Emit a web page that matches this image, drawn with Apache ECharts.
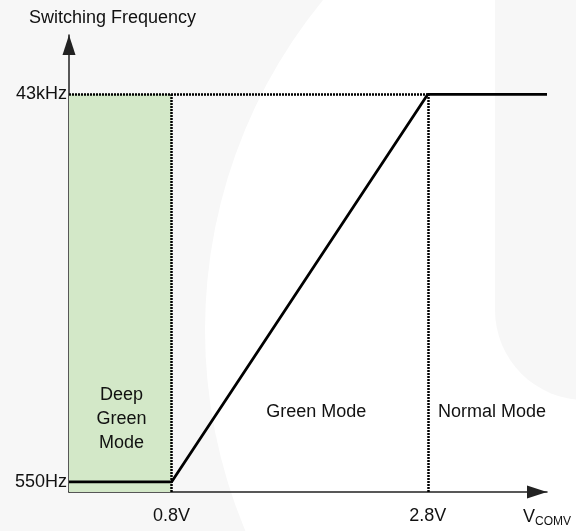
<!DOCTYPE html>
<html>
<head>
<meta charset="utf-8">
<script src="https://cdn.jsdelivr.net/npm/echarts@6/dist/echarts.min.js"></script>
<style>
html, body { margin: 0; padding: 0; background: #fff; }
#chart { width: 576px; height: 531px; }
</style>
</head>
<body>
<div id="chart"></div>
<script>
// 开关频率 vs 控制电压 VCOMV
var voltage = [0, 0.8, 2.8, 3.73];
var freqKHz = [0.55, 0.55, 43, 43];
var vTicks = [0.8, 2.8];
var vTickLabels = ['0.8V', '2.8V'];
var fTicks = [0.55, 43];
var fTickLabels = ['550Hz', '43kHz'];
var deepGreenEnd = 0.8;
var normalStart = 2.8;
var fMax = 43;
var yMin = -0.55;
var yMax = 49.5;
var modeNames = ['Deep\nGreen\nMode', 'Green Mode', 'Normal Mode'];
var modeX = [0.41, 1.93, 3.3];
var modeY = [7.4, 8.2, 8.2];

var FONT = '"Liberation Sans", Arial, sans-serif';
var INK = '#111';

function pickLabel(ticks, labels) {
    return function(v) {
        for (var i = 0; i < ticks.length; i++) {
            if (Math.abs(ticks[i] - v) < 1e-6) return labels[i];
        }
        return '';
    };
}

var chart = echarts.init(document.getElementById('chart'));

var axisLineStyle = { color: '#222', width: 1.5 };

var option = {
    backgroundColor: '#fff',
    animation: false,
    title: {
        text: 'Switching Frequency',
        left: 24,
        top: 4,
        textStyle: { fontFamily: FONT, fontSize: 18, fontWeight: 'normal', color: INK }
    },
    graphic: {
        elements: [
            // 背景水印
            { type: 'rect', z: -10, shape: { x: 0, y: 0, width: 576, height: 531 }, style: { fill: '#f7f7f7' }, silent: true },
            { type: 'circle', z: -9, shape: { cx: 725, cy: 330, r: 520 }, style: { fill: '#fff' }, silent: true },
            { type: 'rect', z: -8, shape: { x: 495, y: -100, width: 120, height: 500, r: [0, 0, 0, 90] }, style: { fill: '#f7f7f7' }, silent: true }
        ]
    },
    grid: { left: 69, right: 29, top: 35, bottom: 39 },
    xAxis: {
        type: 'value',
        min: 0,
        max: 3.73,
        name: '{v|V}{s|COMV}',
        nameLocation: 'end',
        nameGap: -24,
        nameTextStyle: {
            verticalAlign: 'top',
            padding: [14, 0, 0, 0],
            rich: {
                v: { fontFamily: FONT, fontSize: 18, color: INK },
                s: { fontFamily: FONT, fontSize: 12, color: INK, padding: [10, 0, 0, 0] }
            }
        },
        splitLine: { show: false },
        axisTick: { show: false },
        axisLine: {
            onZero: false,
            symbol: ['none', 'triangle'],
            symbolSize: [13, 20],
            symbolOffset: [0, -10],
            lineStyle: axisLineStyle
        },
        axisLabel: {
            customValues: vTicks,
            formatter: pickLabel(vTicks, vTickLabels),
            margin: 15,
            fontFamily: FONT,
            fontSize: 18,
            color: INK
        }
    },
    yAxis: {
        type: 'value',
        min: yMin,
        max: yMax,
        splitLine: { show: false },
        axisTick: { show: false },
        axisLine: {
            onZero: false,
            symbol: ['none', 'triangle'],
            symbolSize: [13, 20],
            symbolOffset: [0, -10],
            lineStyle: axisLineStyle
        },
        axisLabel: {
            customValues: fTicks,
            formatter: pickLabel(fTicks, fTickLabels),
            margin: 2,
            fontFamily: FONT,
            fontSize: 18,
            color: INK
        }
    },
    series: [
        {
            // 深度绿色模式区域 + 虚线
            type: 'line',
            data: [],
            silent: true,
            markArea: {
                silent: true,
                itemStyle: { color: '#d3e8c8' },
                data: [[{ coord: [0, yMin] }, { coord: [deepGreenEnd, fMax] }]]
            },
            markLine: {
                silent: true,
                symbol: ['none', 'none'],
                label: { show: false },
                lineStyle: { color: '#000', width: 2.5, type: [2, 1], opacity: 1 },
                emphasis: { disabled: true },
                data: [
                    [{ coord: [0, fMax] }, { coord: [normalStart, fMax] }],
                    [{ coord: [deepGreenEnd, yMin] }, { coord: [deepGreenEnd, fMax] }],
                    [{ coord: [normalStart, yMin] }, { coord: [normalStart, fMax] }]
                ]
            }
        },
        {
            type: 'line',
            data: voltage.map(function(v, i) { return [v, freqKHz[i]]; }),
            symbol: 'none',
            z: 5,
            clip: false,
            lineStyle: { color: '#000', width: 2.8 }
        },
        {
            type: 'scatter',
            symbolSize: 0,
            silent: true,
            z: 6,
            itemStyle: { opacity: 1 },
            data: modeX.map(function(x, i) { return { value: [x, modeY[i]], name: modeNames[i] }; }),
            label: {
                show: true,
                position: 'inside',
                formatter: '{b}',
                fontFamily: FONT,
                fontSize: 18,
                lineHeight: 24,
                color: INK,
                opacity: 1
            }
        }
    ]
};

chart.setOption(option);
</script>
</body>
</html>
